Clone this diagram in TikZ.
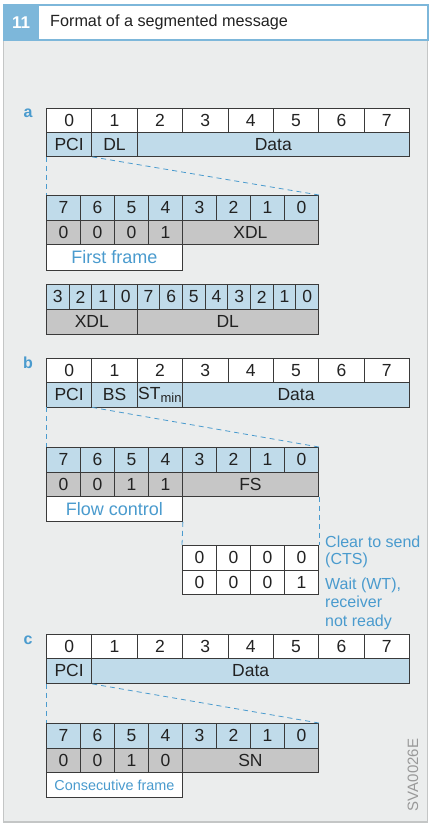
\documentclass[tikz,border=0pt]{standalone}
\usepackage{fontspec}
\setmainfont{Liberation Sans}
\definecolor{hdrblue}{HTML}{7DB7DA}
\definecolor{cellblue}{HTML}{C0DBEA}
\definecolor{cellgray}{HTML}{C6C6C6}
\definecolor{panel}{HTML}{EBEDED}
\definecolor{panelborder}{HTML}{C4C6C6}
\definecolor{txtblue}{HTML}{4A9BCE}
\definecolor{edge}{HTML}{3A3A3A}
\definecolor{ink}{HTML}{222222}
\tikzset{
  cell/.style={draw=edge, line width=0.9pt, inner sep=0pt, anchor=north west, font=\fontsize{17.5}{20}\selectfont, text=ink},
  bluecell/.style={cell, fill=cellblue},
  graycell/.style={cell, fill=cellgray},
  whitecell/.style={cell, fill=white},
  labelbox/.style={cell, fill=white, text=txtblue, font=\fontsize{18}{20}\selectfont},
  zoomline/.style={draw=txtblue, dash pattern=on 5pt off 4pt, line width=0.8pt},
  seclabel/.style={text=txtblue, font=\fontsize{16}{18}\selectfont\bfseries},
  note/.style={text=txtblue, font=\fontsize{16}{18}\selectfont, anchor=base west, align=left, inner sep=0pt}
}
\begin{document}
\begin{tikzpicture}[x=1pt,y=-1pt]
\useasboundingbox (0,0) rectangle (431,825);
% panel and header
\draw[fill=panel, draw=panelborder, line width=1.5pt] (3.5,40) rectangle (427.5,822);
\draw[fill=white, draw=hdrblue, line width=2pt] (3.5,5) rectangle (427.5,40);
\node[fill=hdrblue, anchor=north west, minimum width=35pt, minimum height=35pt, inner sep=0pt,
      text=white, font=\fontsize{17}{20}\selectfont\bfseries] (num) at (3.5,5) {11};
\node[anchor=west, inner sep=0pt, text=ink, font=\fontsize{16.2}{18}\selectfont] (title) at (50,22.5) {Format of a segmented message};

% ---------- a ----------
\node[seclabel] (la) at (28,113) {a};
\foreach \i in {0,...,7}{\node[whitecell, minimum width=45.375pt, minimum height=24pt] (aT\i) at ({46+45.375*\i},108) {\i};}
\node[bluecell, minimum width=45.375pt, minimum height=24pt] (aPCI) at (46,132) {PCI};
\node[bluecell, minimum width=45.375pt, minimum height=24pt] (aDL) at (91.375,132) {DL};
\node[bluecell, minimum width=272.25pt, minimum height=24pt] (aData) at (136.75,132) {Data};
\foreach \k in {0,...,7}{\pgfmathtruncatemacro\b{7-\k}\node[bluecell, minimum width=34pt, minimum height=24.5pt] (aB\b) at ({46+34*\k},195) {\b};}
\node[graycell, minimum width=34pt, minimum height=24.5pt] (aV7) at (46,219.5) {0};
\node[graycell, minimum width=34pt, minimum height=24.5pt] (aV6) at (80,219.5) {0};
\node[graycell, minimum width=34pt, minimum height=24.5pt] (aV5) at (114,219.5) {0};
\node[graycell, minimum width=34pt, minimum height=24.5pt] (aV4) at (148,219.5) {1};
\node[graycell, minimum width=136pt, minimum height=24.5pt] (aXDL) at (182,219.5) {XDL};
\node[labelbox, minimum width=136pt, minimum height=25.5pt] (aFF) at (46,244) {First frame};
\draw[zoomline] (aPCI.south west) -- (aB7.north west);
\draw[zoomline] (aPCI.south east) -- (aB0.north east);
\foreach \lab [count=\k from 0] in {3,2,1,0,7,6,5,4,3,2,1,0}{\node[bluecell, minimum width=22.667pt, minimum height=25pt] (aW\k) at ({46+22.667*\k},284) {\lab};}
\node[graycell, minimum width=90.667pt, minimum height=25pt] (aWX) at (46,309) {XDL};
\node[graycell, minimum width=181.333pt, minimum height=25pt] (aWD) at (136.667,309) {DL};

% ---------- b ----------
\node[seclabel] (lb) at (28,363) {b};
\foreach \i in {0,...,7}{\node[whitecell, minimum width=45.375pt, minimum height=24pt] (bT\i) at ({46+45.375*\i},358) {\i};}
\node[bluecell, minimum width=45.375pt, minimum height=24.5pt] (bPCI) at (46,382) {PCI};
\node[bluecell, minimum width=45.375pt, minimum height=24.5pt] (bBS) at (91.375,382) {BS};
\node[bluecell, minimum width=45.375pt, minimum height=24.5pt] (bST) at (136.75,382) {ST\raisebox{-0.35ex}{\fontsize{13}{14}\selectfont min}};
\node[bluecell, minimum width=226.875pt, minimum height=24.5pt] (bData) at (182.125,382) {Data};
\foreach \k in {0,...,7}{\pgfmathtruncatemacro\b{7-\k}\node[bluecell, minimum width=34pt, minimum height=24.5pt] (bB\b) at ({46+34*\k},447) {\b};}
\node[graycell, minimum width=34pt, minimum height=24.5pt] (bV7) at (46,471.5) {0};
\node[graycell, minimum width=34pt, minimum height=24.5pt] (bV6) at (80,471.5) {0};
\node[graycell, minimum width=34pt, minimum height=24.5pt] (bV5) at (114,471.5) {1};
\node[graycell, minimum width=34pt, minimum height=24.5pt] (bV4) at (148,471.5) {1};
\node[graycell, minimum width=136pt, minimum height=24.5pt] (bFS) at (182,471.5) {FS};
\node[labelbox, minimum width=136pt, minimum height=25pt] (bFC) at (46,496) {Flow control};
\draw[zoomline] (bPCI.south west) -- (bB7.north west);
\draw[zoomline] (bPCI.south east) -- (bB0.north east);
\node[whitecell, minimum width=34pt, minimum height=24.5pt] (c13) at (182,545) {0};
\node[whitecell, minimum width=34pt, minimum height=24.5pt] (c12) at (216,545) {0};
\node[whitecell, minimum width=34pt, minimum height=24.5pt] (c11) at (250,545) {0};
\node[whitecell, minimum width=34pt, minimum height=24.5pt] (c10) at (284,545) {0};
\node[whitecell, minimum width=34pt, minimum height=24.5pt] (c23) at (182,569.5) {0};
\node[whitecell, minimum width=34pt, minimum height=24.5pt] (c22) at (216,569.5) {0};
\node[whitecell, minimum width=34pt, minimum height=24.5pt] (c21) at (250,569.5) {0};
\node[whitecell, minimum width=34pt, minimum height=24.5pt] (c20) at (284,569.5) {1};
\draw[zoomline] (bFC.south east) -- (c13.north west);
\draw[zoomline] (bFS.south east) -- (c10.north east);
\node[note, font=\fontsize{16}{17.3}\selectfont] (cts) at (325,564.7) {Clear to send\\(CTS)};
\node[note, font=\fontsize{16}{18.5}\selectfont] (wt) at (325,626) {Wait (WT),\\receiver\\not ready};

% ---------- c ----------
\node[seclabel] (lc) at (28,640) {c};
\foreach \i in {0,...,7}{\node[whitecell, minimum width=45.375pt, minimum height=24pt] (cT\i) at ({46+45.375*\i},634) {\i};}
\node[bluecell, minimum width=45.375pt, minimum height=25pt] (cPCI) at (46,658) {PCI};
\node[bluecell, minimum width=317.625pt, minimum height=25pt] (cData) at (91.375,658) {Data};
\foreach \k in {0,...,7}{\pgfmathtruncatemacro\b{7-\k}\node[bluecell, minimum width=34pt, minimum height=24.5pt] (cB\b) at ({46+34*\k},723) {\b};}
\node[graycell, minimum width=34pt, minimum height=24.5pt] (cV7) at (46,747.5) {0};
\node[graycell, minimum width=34pt, minimum height=24.5pt] (cV6) at (80,747.5) {0};
\node[graycell, minimum width=34pt, minimum height=24.5pt] (cV5) at (114,747.5) {1};
\node[graycell, minimum width=34pt, minimum height=24.5pt] (cV4) at (148,747.5) {0};
\node[graycell, minimum width=136pt, minimum height=24.5pt] (cSN) at (182,747.5) {SN};
\node[labelbox, minimum width=136pt, minimum height=25pt, font=\fontsize{14.4}{16}\selectfont] (cCF) at (46,772) {Consecutive frame};
\draw[zoomline] (cPCI.south west) -- (cB7.north west);
\draw[zoomline] (cPCI.south east) -- (cB0.north east);
\node[rotate=90, text=black!40, font=\fontsize{15}{16}\selectfont, inner sep=0pt] (code) at (413,775) {SVA0026E};
\end{tikzpicture}
\end{document}
